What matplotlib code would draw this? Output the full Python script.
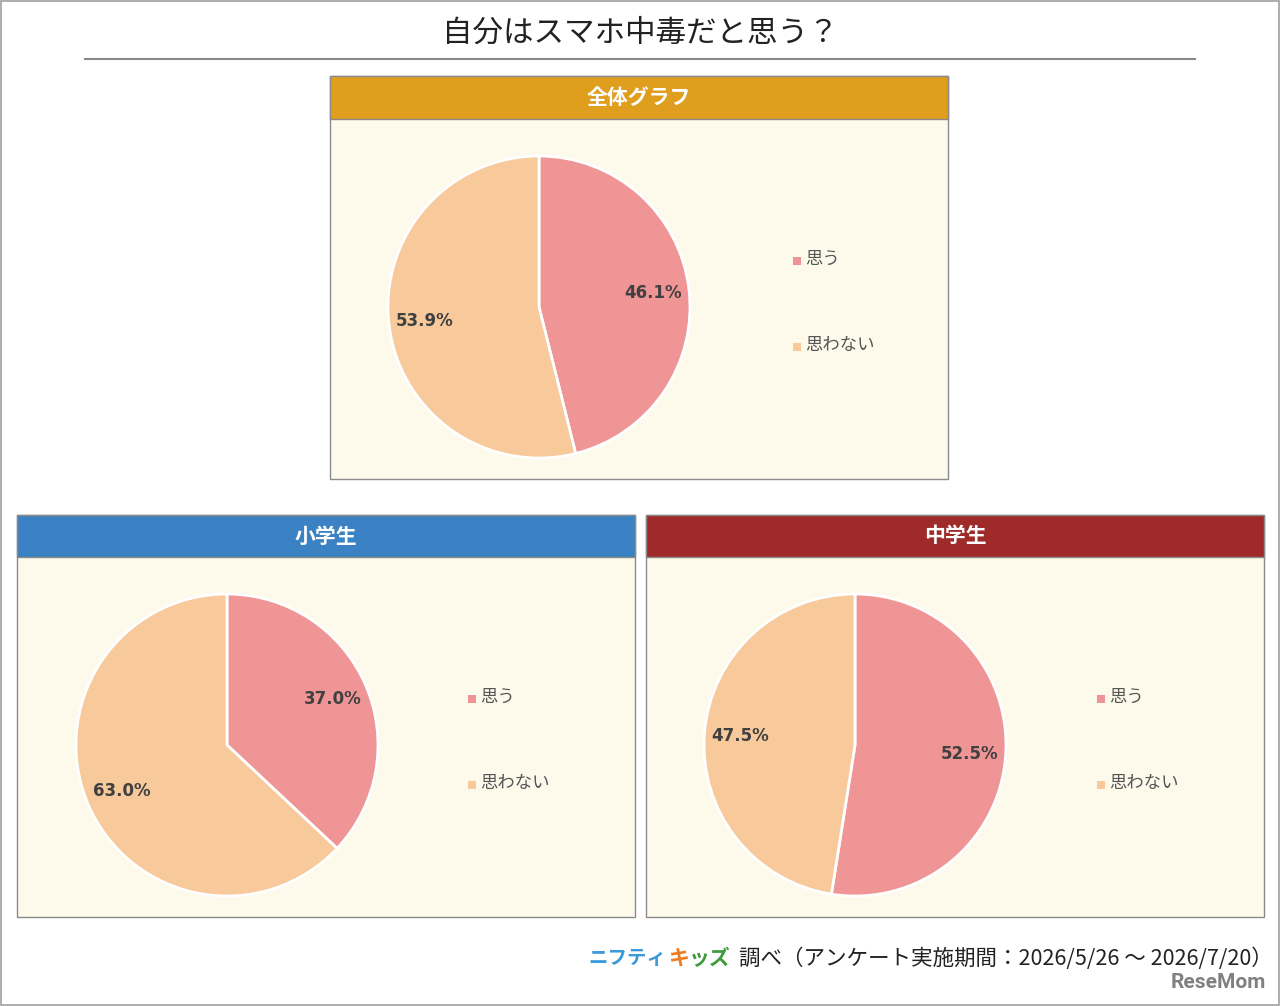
import matplotlib
matplotlib.use("Agg")
import matplotlib.pyplot as plt
from matplotlib.patches import Rectangle

plt.rcParams['font.family'] = ['Noto Sans CJK JP', 'DejaVu Sans']

# data
title = "自分はスマホ中毒だと思う？"
categories = ["思う", "思わない"]
panel_titles = ["全体グラフ", "小学生", "中学生"]
values_all = [46.1, 53.9]
values_elem = [37.0, 63.0]
values_junior = [52.5, 47.5]
footer = "調べ（アンケート実施期間：2026/5/26 ～ 2026/7/20）"

colors = ["#F09595", "#F7C99B"]
header_colors = ["#E09E1E", "#3A82C4", "#9E2A2A"]
body_color = "#FDFAEB"

W, H = 1280, 1006
fig = plt.figure(figsize=(W / 100, H / 100), dpi=100)


def fx(x):
    return x / W


def fy(y):
    return 1 - y / H


# outer frame
fig.patches.append(Rectangle((0.001, 0.001), 0.998, 0.998, transform=fig.transFigure,
                             fill=False, edgecolor="#A0A0A0", lw=1.2, zorder=-2))

fig.text(fx(640), fy(33), title, ha="center", va="center", fontsize=22, color="#222222")
fig.add_artist(plt.Line2D([fx(85), fx(1195)], [fy(59), fy(59)], color="#888888", lw=1.5))

# panels: (x0, y0, x1, y1, header height, pie center x, legend x, values)
panels = [
    (330, 76, 948, 479, 43, 539, 797, values_all),
    (17, 515, 635, 917, 42, 227, 472, values_elem),
    (646, 515, 1264, 917, 42, 855, 1101, values_junior),
]

for i, (x0, y0, x1, y1, hh, cx, lx, vals) in enumerate(panels):
    # body
    fig.patches.append(Rectangle((fx(x0), fy(y1)), fx(x1 - x0), (y1 - y0) / H,
                                 transform=fig.transFigure, facecolor=body_color,
                                 edgecolor="#8A8A8A", lw=1, zorder=-2))
    # header
    fig.patches.append(Rectangle((fx(x0), fy(y0 + hh)), fx(x1 - x0), hh / H,
                                 transform=fig.transFigure, facecolor=header_colors[i],
                                 edgecolor="#8A8A8A", lw=1, zorder=-1))
    fig.text(fx((x0 + x1) / 2), fy(y0 + hh / 2), panel_titles[i], ha="center", va="center",
             fontsize=15, fontweight="bold", color="white")

    # pie
    cy = y0 + hh + (y1 - y0 - hh) / 2 + 8
    r = 151
    ax = fig.add_axes([fx(cx - r), fy(cy + r), fx(2 * r), 2 * r / H])
    ax.patch.set_visible(False)
    wedges, _, autotexts = ax.pie(vals, colors=colors, startangle=90, counterclock=False,
                                  autopct=lambda p: f"{p:.1f}%", pctdistance=0.76,
                                  wedgeprops=dict(edgecolor="white", linewidth=2))
    for t in autotexts:
        t.set_fontsize(12)
        t.set_fontweight("bold")
        t.set_family(["DejaVu Sans"])
        t.set_color("#404040")
    ax.set_xlim(-1.0, 1.0)
    ax.set_ylim(-1.0, 1.0)
    ax.axis("off")

    # legend
    for j, cat in enumerate(categories):
        ly = cy - 46 + j * 86
        fig.patches.append(Rectangle((fx(lx - 4), fy(ly + 4)), 8 / W, 8 / H,
                                     transform=fig.transFigure, facecolor=colors[j],
                                     edgecolor="none"))
        fig.text(fx(lx + 8), fy(ly - 2), cat, ha="left", va="center", fontsize=12.5,
                 color="#555555")

# footer
fig.text(fx(588), fy(959), "ニフティ", ha="left", va="center", fontsize=14,
         fontweight="bold", color="#3A9AD9")
fig.text(fx(668), fy(959), "キ", ha="left", va="center", fontsize=15,
         fontweight="bold", color="#EE7A1F")
fig.text(fx(689), fy(959), "ッズ", ha="left", va="center", fontsize=15,
         fontweight="bold", color="#3E9A3A")
fig.text(fx(1273), fy(959), footer, ha="right", va="center", fontsize=15.5, color="#222222")
fig.text(fx(1266), fy(983), "ReseMom", ha="right", va="center", fontsize=15,
         fontweight="bold", color="#808080", family=["Roboto", "DejaVu Sans"])

fig.savefig("out.png", dpi=100)
